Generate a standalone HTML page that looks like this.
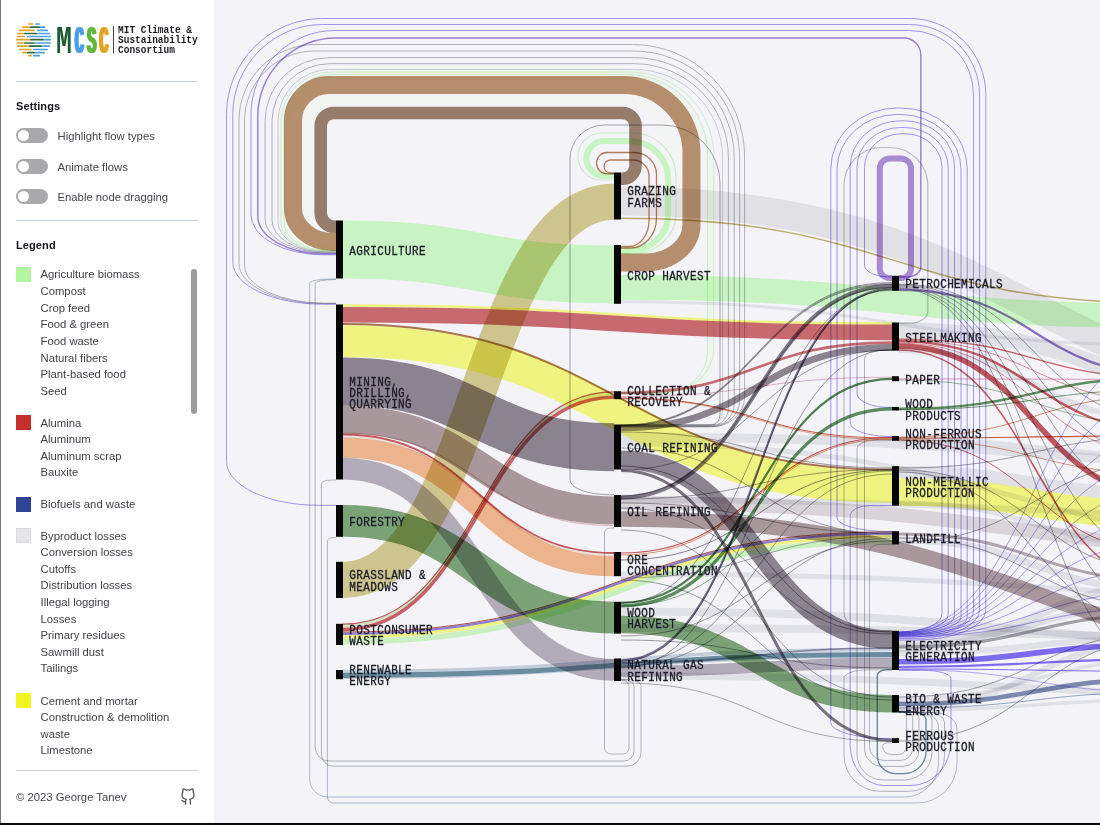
<!DOCTYPE html>
<html lang="en">
<head>
<meta charset="utf-8">
<title>MCSC – Material flows Sankey</title>
<style>
html,body{margin:0;padding:0;}
body{width:1100px;height:825px;overflow:hidden;background:#f3f3f8;font-family:"Liberation Sans",sans-serif;color:#3d3d45;position:relative;}
#frame{position:absolute;left:0;top:0;width:1100px;height:825px;overflow:hidden;}
#side{position:absolute;left:1px;top:0;width:213px;height:823px;background:#fff;}
#edgeL{position:absolute;left:0;top:0;width:1px;height:825px;background:#7a777c;}
#edgeB{position:absolute;left:0;top:823px;width:1100px;height:2px;background:#0a0a0a;}
.hr{position:absolute;left:15px;width:182px;height:1px;background:#c5cfe0;}
.h{position:absolute;left:15px;font-weight:bold;font-size:11px;color:#16161c;letter-spacing:.1px;white-space:nowrap;}
.t{position:absolute;left:56.5px;font-size:11.3px;color:#44444c;white-space:nowrap;line-height:14px;}
.tg{position:absolute;left:15px;width:32px;height:15px;border-radius:8px;background:#a9a9ab;}
.tg i{position:absolute;left:2px;top:2px;width:11px;height:11px;border-radius:6px;background:#fff;}
.lg{position:absolute;left:39.5px;font-size:11.3px;color:#3f3f47;white-space:nowrap;line-height:14px;}
.sw{position:absolute;left:15px;width:15px;height:15px;}
#sb{position:absolute;left:190px;top:269px;width:6px;height:145px;border-radius:3px;background:#9b9b9f;}
#dia{position:absolute;left:0;top:0;}
#dia path{fill:none;}
#dia .l{mix-blend-mode:multiply;}
#dia .c{mix-blend-mode:multiply;}
#dia .n{mix-blend-mode:normal;}
#dia text{font-family:"Liberation Mono",monospace;font-size:11px;letter-spacing:.38px;fill:#1b1b26;stroke:#1b1b26;stroke-width:.28px;}
#logo text{font-family:"Liberation Mono",monospace;}
</style>
</head>
<body>
<div id="frame">
<svg id="dia" width="1100" height="825" viewBox="0 0 1100 825">
<rect x="214" y="0" width="886" height="825" fill="#f3f3f8"/>
<path class="n" d="M621,393L680,393A30,40 0 0 0 710,353L710,174.5A105,105 0 0 0 605,69.5L360,69.5A80,80 0 0 0 280,149.5L280,210A56,40 0 0 0 336,250L336,250" stroke="#eff4f0" stroke-width="7"/>
<path class="n" d="M621,250L644,250A24,24 0 0 0 668,226L668,144.5A44,44 0 0 0 624,100.5L331,100.5A24,24 0 0 0 307,124.5L307,216A20,20 0 0 0 327,236L336,236" stroke="#f1f5f2" stroke-width="8.5"/>
<path class="c" d="M621,262.5L645.5,262.5A46,38 0 0 0 691.5,224.5L691.5,153A68,68 0 0 0 623.5,85L329,85A36,36 0 0 0 293,121L293,208A40,34 0 0 0 333,242L336,242" stroke="#be9670" stroke-width="18"/>
<path class="c" d="M621,178.8L622.5,178.8A13,13 0 0 0 635.5,165.8L635.5,126A13,13 0 0 0 622.5,113L333.7,113A13,13 0 0 0 320.7,126L320.7,212.8A14,14 0 0 0 334.7,226.8L336,226.8" stroke="#9e826e" stroke-width="12.6"/>
<path class="c" d="M621,251L628,251A40,36 0 0 0 668,215L668,179A38,38 0 0 0 630,141L604,141A17.5,17.5 0 0 0 586.5,158.5L586.5,158.5A17.5,17.5 0 0 0 604,176L614,176" stroke="#d2ffc8" stroke-width="6"/>
<path class="c" d="M621,254L632,254A44,40 0 0 0 676,214L676,177A44,44 0 0 0 632,133L601.5,133A23.5,23.5 0 0 0 578,156.5L578,156.5A23.5,23.5 0 0 0 601.5,180L614,180" stroke="#d9f7d2" stroke-width="1.2"/>
<path class="c" d="M621,248L630.5,248A26,30 0 0 0 656.5,218L656.5,174.5A22,22 0 0 0 634.5,152.5L607.1,152.5A10.6,10.6 0 0 0 596.5,163.1L596.5,163.2A10.6,10.6 0 0 0 607.1,173.8L614,173.8" stroke="#b9825c" stroke-width="1.3"/>
<path class="c" d="M621,246.5L629,246.5A20,26 0 0 0 649,220.5L649,176A16,16 0 0 0 633,160L610.5,160A6.5,6.5 0 0 0 604,166.5L604,166.5A6.5,6.5 0 0 0 610.5,173L614,173" stroke="#b9825c" stroke-width="1.3"/>
<path class="c" d="M899,640L915.8,640A70,30 0 0 0 985.8,610L985.8,94.5A76,76 0 0 0 909.8,18.5L322.5,18.5A96,96 0 0 0 226.5,114.5L226.5,461.3A92,44 0 0 0 318.5,505.3L336,505.3" stroke="#a79bf3" stroke-width="1"/>
<path class="c" d="M899,638.5L913.5,638.5A66,28 0 0 0 979.5,610.5L979.5,94.5A70,70 0 0 0 909.5,24.5L322.8,24.5A90,90 0 0 0 232.8,114.5L232.8,262.2A90,42 0 0 0 322.8,304.2L336,304.2" stroke="#a79bf3" stroke-width="1"/>
<path class="c" d="M899,637L911.5,637A62,26 0 0 0 973.5,611L973.5,94.5A64,64 0 0 0 909.5,30.5L335,30.5A84,84 0 0 0 251,114.5L251,214.8A72,40 0 0 0 323,254.8L336,254.8" stroke="#a79bf3" stroke-width="1"/>
<path class="c" d="M899,277L906.8,277A14,10 0 0 0 920.8,267L920.8,55A17,17 0 0 0 903.8,38L335.8,38A78,78 0 0 0 257.8,116L257.8,215.8A66,38 0 0 0 323.8,253.8L336,253.8" stroke="#a184d6" stroke-width="1.4"/>
<path class="c" d="M621,427L710.6,427A34,30 0 0 0 744.6,397L744.6,156.5A112,112 0 0 0 632.6,44.5L315,44.5A76,76 0 0 0 239,120.5L239,263.6A84,40 0 0 0 323,303.6L336,303.6" stroke="#b9b9c0" stroke-width="1"/>
<path class="c" d="M621,426.5L711.6,426.5A28,26 0 0 0 739.6,400.5L739.6,157A106,106 0 0 0 633.6,51L314.5,51A70,70 0 0 0 244.5,121L244.5,265.2A80,38 0 0 0 324.5,303.2L336,303.2" stroke="#b9b9c0" stroke-width="1"/>
<path class="c" d="M621,426L712.2,426A22,22 0 0 0 734.2,404L734.2,157.6A100,100 0 0 0 634.2,57.6L329,57.6A64,64 0 0 0 265,121.6L265,218.8A60,34 0 0 0 325,252.8L336,252.8" stroke="#b9b9c0" stroke-width="1"/>
<path class="c" d="M621,425.5L712.4,425.5A16,18 0 0 0 728.4,407.5L728.4,157.7A94,94 0 0 0 634.4,63.7L330,63.7A58,58 0 0 0 272,121.7L272,220.2A54,32 0 0 0 326,252.2L336,252.2" stroke="#b9b9c0" stroke-width="1"/>
<path class="c" d="M621,425L712.5,425A10,14 0 0 0 722.5,411L722.5,157.5A88,88 0 0 0 634.5,69.5L330,69.5A52,52 0 0 0 278,121.5L278,221.6A48,30 0 0 0 326,251.6L336,251.6" stroke="#d4d4da" stroke-width="1"/>
<path class="c" d="M621,392.5L663.8,392.5A50,44 0 0 0 713.8,348.5L713.8,156A84,84 0 0 0 629.8,72L331,72A50,50 0 0 0 281,122L281,223A46,28 0 0 0 327,251L336,251" stroke="#d9f7d2" stroke-width="1"/>
<path class="c" d="M621,393.5L661.5,393.5A46,42 0 0 0 707.5,351.5L707.5,154.5A80,80 0 0 0 627.5,74.5L332,74.5A48,48 0 0 0 284,122.5L284,222.6A44,28 0 0 0 328,250.6L336,250.6" stroke="#d9f7d2" stroke-width="1"/>
<path class="c" d="M621,424.7L712,424.7A8,10 0 0 0 720,414.7L720,183A58,58 0 0 0 662,125L604,125A34,34 0 0 0 570,159L570,479.8A40,15 0 0 0 610,494.8L614,494.8" stroke="#a9a9b0" stroke-width="1"/>
<path class="c" d="M899,635.5L903,635.5A64.2,18 0 0 0 967.2,617.5L967.2,168.9A66.2,61 0 0 0 901,108L897,108A66.2,61 0 0 0 830.8,168.9L830.8,722.6A59.2,16 0 0 0 890,738.6L892,738.6" stroke="#a79bf3" stroke-width="1"/>
<path class="c" d="M899,634.5L903,634.5A58,18 0 0 0 961,616.5L961,169.7A60,55.2 0 0 0 901,114.5L897,114.5A60,55.2 0 0 0 837,169.7L837,517.6A53,14 0 0 0 890,531.6L892,531.6" stroke="#a79bf3" stroke-width="1"/>
<path class="c" d="M899,633.5L903,633.5A51.5,18 0 0 0 954.5,615.5L954.5,166.9A50.1,46.1 0 0 0 904.4,120.8L900.4,120.8A50.1,46.1 0 0 0 850.2,166.9L850.2,422.5A39.8,14 0 0 0 890,436.5L892,436.5" stroke="#a79bf3" stroke-width="1"/>
<path class="c" d="M899,632.6L903,632.6A45.2,18 0 0 0 948.2,614.6L948.2,167.6A43.6,40.1 0 0 0 904.6,127.5L900.6,127.5A43.6,40.1 0 0 0 857,167.6L857,393.5A33,14 0 0 0 890,407.5L892,407.5" stroke="#a79bf3" stroke-width="1"/>
<path class="c" d="M899,631.7L903,631.7A39,18 0 0 0 942,613.7L942,167.6A36.8,33.8 0 0 0 905.2,133.8L901.2,133.8A36.8,33.8 0 0 0 864.5,167.6L864.5,265A25.5,12 0 0 0 890,277L892,277" stroke="#a79bf3" stroke-width="1"/>
<path class="c" d="M899,323.2L909.8,323.2A18,12 0 0 0 927.8,311.2L927.8,185.5A38,38 0 0 0 889.8,147.5L882,147.5A38,38 0 0 0 844,185.5L844,613A30,18 0 0 0 874,631L892,631" stroke="#c3c3c8" stroke-width="1.2"/>
<path class="c" d="M899,278L901,278A10,9 0 0 0 911,269L911,168.5A10,10 0 0 0 901,158.5L889.8,158.5A10,10 0 0 0 879.8,168.5L879.8,269A10,9 0 0 0 889.8,278L892,278" stroke="#b190d8" stroke-width="6"/>
<path class="c" d="M621,680.5L623,680.5A6,6 0 0 1 629,686.5L629,748A6,6 0 0 1 623,754L610.5,754A6,6 0 0 1 604.5,748L604.5,532A7,4 0 0 1 611.5,528L614,528" stroke="#b9b9c0" stroke-width="1"/>
<path class="c" d="M621,680L624,680A10,6 0 0 1 634,686L634,751A10,10 0 0 1 624,761L329.1,761A14,14 0 0 1 315.1,747L315.1,283.6A18,4 0 0 1 333.1,279.6L336,279.6" stroke="#b9b9c0" stroke-width="1"/>
<path class="c" d="M621,679.5L627,679.5A14,6 0 0 1 641,685.5L641,752.2A14,14 0 0 1 627,766.2L333.4,766.2A12,12 0 0 1 321.4,754.2L321.4,484A10,4 0 0 1 331.4,480L336,480" stroke="#b9b9c0" stroke-width="1"/>
<path class="c" d="M899,712.4L918.5,712.4A20,14 0 0 1 938.5,726.4L938.5,763A34,34 0 0 1 904.5,797L327.7,797A18,18 0 0 1 309.7,779L309.7,283A22,4 0 0 1 331.7,279L336,279" stroke="#b7c0cf" stroke-width="1"/>
<path class="c" d="M899,712.5L933,712.5A24,16 0 0 1 957,728.5L957,763A40,40 0 0 1 917,803L333.4,803A6,6 0 0 1 327.4,797L327.4,540.5A8,3 0 0 1 335.4,537.5L336,537.5" stroke="#b7c0cf" stroke-width="1"/>
<path class="c" d="M899,711.2L901.4,711.2A5,5 0 0 1 906.4,716.2L906.4,746.5A8,8 0 0 1 898.4,754.5L890.7,754.5A8,8 0 0 1 882.7,746.5L882.7,745.8A6,3 0 0 1 888.7,742.8L892,742.8" stroke="#b9b9c4" stroke-width="1"/>
<path class="c" d="M899,711.4L904.7,711.4A8,6 0 0 1 912.7,717.4L912.7,748.4A12,12 0 0 1 900.7,760.4L883.5,760.4A14,14 0 0 1 869.5,746.4L869.5,550.3A12,6 0 0 1 881.5,544.3L892,544.3" stroke="#b9b9c4" stroke-width="1"/>
<path class="c" d="M899,711.6L909,711.6A10,6 0 0 1 919,717.6L919,750.4A16,16 0 0 1 903,766.4L882.5,766.4A18,18 0 0 1 864.5,748.4L864.5,358.5A14,8 0 0 1 878.5,350.5L892,350.5" stroke="#b9b9c4" stroke-width="1"/>
<path class="c" d="M899,711.8L912,711.8A14,8 0 0 1 926,719.8L926,751.6A22,22 0 0 1 904,773.6L895.3,773.6A18,18 0 0 1 877.3,755.6L877.3,675.6A10,6 0 0 1 887.3,669.6L892,669.6" stroke="#6a8a9c" stroke-width="1.3"/>
<path class="c" d="M899,712L916,712A16,8 0 0 1 932,720L932,752A28,28 0 0 1 904,780L883,780A26,26 0 0 1 857,754L857,448.6A16,8 0 0 1 873,440.6L892,440.6" stroke="#b9b9c4" stroke-width="1"/>
<path class="c" d="M899,712.2L926.5,712.2A18,10 0 0 1 944.5,722.2L944.5,755.3A36,36 0 0 1 908.5,791.3L880,791.3A36,36 0 0 1 844,755.3L844,677.9A24,8 0 0 1 868,669.9L892,669.9" stroke="#b9b9c4" stroke-width="1"/>
<path class="c" d="M899,670.3L923,670.3A28,8 0 0 1 951,678.3L951,741.5A40,44 0 0 1 911,785.5L884.2,785.5A34,40 0 0 1 850.2,745.5L850.2,515.5A20,10 0 0 1 870.2,505.5L892,505.5" stroke="#a79bf3" stroke-width="1"/>
<path class="l" d="M343,249.5C478.5,249.5 478.5,274.4 614,274.4" stroke="#d2ffc8" stroke-width="58"/>
<path class="l" d="M343,305.5C617.5,305.5 617.5,323.5 892,323.5" stroke="#fbff83" stroke-width="2.4"/>
<path class="l" d="M343,314.8C617.5,314.8 617.5,332.4 892,332.4" stroke="#d16f72" stroke-width="15.6"/>
<path class="l" d="M343,341.2C617.5,341.2 617.5,486.9 892,486.9" stroke="#fbff83" stroke-width="31.8"/>
<path class="l" d="M343,323.9C617.5,323.9 617.5,469.8 892,469.8" stroke="#b07a52" stroke-width="2"/>
<path class="l" d="M343,381.4C478.5,381.4 478.5,447.2 614,447.2" stroke="#928a93" stroke-width="48"/>
<path class="l" d="M343,419.6C478.5,419.6 478.5,510.4 614,510.4" stroke="#b0a0a1" stroke-width="28"/>
<path class="l" d="M343,433C478.5,433 478.5,525.6 614,525.6" stroke="#e9c4c4" stroke-width="1.2"/>
<path class="l" d="M343,434.5C478.5,434.5 478.5,553 614,553" stroke="#cf5a5e" stroke-width="1.8"/>
<path class="l" d="M343,436.6C478.5,436.6 478.5,555 614,555" stroke="#f4ece6" stroke-width="1.8"/>
<path class="l" d="M343,447.7C478.5,447.7 478.5,566.2 614,566.2" stroke="#f7bd90" stroke-width="20.2"/>
<path class="l" d="M343,468.7C478.5,468.7 478.5,669.8 614,669.8" stroke="#bbb5bf" stroke-width="21.8"/>
<path class="l" d="M343,520.9C478.5,520.9 478.5,617.6 614,617.6" stroke="#80aa79" stroke-width="31.8"/>
<path class="l" d="M343,579.9C478.5,579.9 478.5,201.8 614,201.8" stroke="#d9cf92" stroke-width="36"/>
<path class="l" d="M343,624.2C478.5,624.2 478.5,391.9 614,391.9" stroke="#c9555a" stroke-width="1.2"/>
<path class="l" d="M343,625.6C478.5,625.6 478.5,393.2 614,393.2" stroke="#d2f7c8" stroke-width="1.5"/>
<path class="l" d="M343,627C478.5,627 478.5,394.6 614,394.6" stroke="#f1e7dc" stroke-width="1.4"/>
<path class="l" d="M343,629.6C478.5,629.6 478.5,397.3 614,397.3" stroke="#d0666a" stroke-width="3.5"/>
<path class="l" d="M343,632C617.5,632 617.5,531.8 892,531.8" stroke="#b5564a" stroke-width="1"/>
<path class="l" d="M343,633.8C617.5,633.8 617.5,533.6 892,533.6" stroke="#9683d8" stroke-width="2.4"/>
<path class="l" d="M343,636.8C617.5,636.8 617.5,536.5 892,536.5" stroke="#fbff83" stroke-width="3.2"/>
<path class="l" d="M343,641.6C617.5,641.6 617.5,541.4 892,541.4" stroke="#d4fcc8" stroke-width="5.7"/>
<path class="l" d="M343,671.5C617.5,671.5 617.5,649.4 892,649.4" stroke="#cdd6e2" stroke-width="3.5"/>
<path class="l" d="M343,675.4C617.5,675.4 617.5,654.4 892,654.4" stroke="#6f94a5" stroke-width="5"/>
<path class="l" d="M343,678.4C617.5,678.4 617.5,657.6 892,657.6" stroke="#d5dde6" stroke-width="1.2"/>
<path class="l" d="M621,201C1034.5,201 1034.5,413 1448,413" stroke="#edecec" stroke-width="29"/>
<path class="l" d="M621,437C1034.5,437 1034.5,470 1448,470" stroke="#ebebee" stroke-width="9"/>
<path class="l" d="M621,444C1034.5,444 1034.5,560 1448,560" stroke="#ebebee" stroke-width="5"/>
<path class="l" d="M621,500C1034.5,500 1034.5,520 1448,520" stroke="#ebebee" stroke-width="6"/>
<path class="l" d="M621,574C1034.5,574 1034.5,600 1448,600" stroke="#ebebee" stroke-width="5"/>
<path class="l" d="M621,628C1034.5,628 1034.5,640 1448,640" stroke="#ebebee" stroke-width="8"/>
<path class="l" d="M621,676C1034.5,676 1034.5,700 1448,700" stroke="#ebebee" stroke-width="7"/>
<path class="l" d="M899,350C1034.5,350 1034.5,420 1170,420" stroke="#ebebee" stroke-width="6"/>
<path class="l" d="M899,440C1034.5,440 1034.5,455 1170,455" stroke="#ebebee" stroke-width="5"/>
<path class="l" d="M899,503C1034.5,503 1034.5,545 1170,545" stroke="#ebebee" stroke-width="5"/>
<path class="l" d="M899,540C1034.5,540 1034.5,590 1170,590" stroke="#ebebee" stroke-width="7"/>
<path class="l" d="M899,648C1034.5,648 1034.5,585 1170,585" stroke="#ebebee" stroke-width="8"/>
<path class="l" d="M899,708C1034.5,708 1034.5,640 1170,640" stroke="#ebebee" stroke-width="6"/>
<path class="l" d="M621,287.4C895.5,287.4 895.5,315.7 1170,315.7" stroke="#d2ffc8" stroke-width="24.6"/>
<path class="l" d="M621,301.8C895.5,301.8 895.5,345 1170,345" stroke="#ebebee" stroke-width="3"/>
<path class="l" d="M621,218.3C895.5,218.3 895.5,303.5 1170,303.5" stroke="#c4b36e" stroke-width="1.5"/>
<path class="l" d="M621,519C1034.5,519 1034.5,667 1448,667" stroke="#b0a0a1" stroke-width="15.5"/>
<path class="l" d="M621,503C1034.5,503 1034.5,560 1448,560" stroke="#e4dfe0" stroke-width="14"/>
<path class="l" d="M621,459.8C756.5,459.8 756.5,639.6 892,639.6" stroke="#928a93" stroke-width="18.5"/>
<path class="l" d="M621,470.5C756.5,470.5 756.5,740.5 892,740.5" stroke="#7f7882" stroke-width="3"/>
<path class="l" d="M621,428C756.5,428 756.5,347.3 892,347.3" stroke="#928a93" stroke-width="6.7"/>
<path class="l" d="M621,393C756.5,393 756.5,342.6 892,342.6" stroke="#d16f72" stroke-width="2.6"/>
<path class="l" d="M621,396.6C756.5,396.6 756.5,377.2 892,377.2" stroke="#e9b3cf" stroke-width="1"/>
<path class="l" d="M621,398C756.5,398 756.5,438 892,438" stroke="#d0603f" stroke-width="1"/>
<path class="l" d="M621,398.8C756.5,398.8 756.5,439.5 892,439.5" stroke="#d98f6f" stroke-width="0.8"/>
<path class="l" d="M621,497.5C756.5,497.5 756.5,286 892,286" stroke="#857e8a" stroke-width="4"/>
<path class="l" d="M621,660.5C756.5,660.5 756.5,288.5 892,288.5" stroke="#7c7490" stroke-width="2.2"/>
<path class="l" d="M621,425C756.5,425 756.5,282.5 892,282.5" stroke="#8a8590" stroke-width="0.8"/>
<path class="l" d="M621,425.6C756.5,425.6 756.5,283.6 892,283.6" stroke="#8a8590" stroke-width="0.8"/>
<path class="l" d="M621,426.2C756.5,426.2 756.5,284.6 892,284.6" stroke="#8a8590" stroke-width="0.8"/>
<path class="l" d="M621,496C756.5,496 756.5,287.3 892,287.3" stroke="#8a8590" stroke-width="0.8"/>
<path class="l" d="M621,661.5C756.5,661.5 756.5,289.6 892,289.6" stroke="#8a8590" stroke-width="0.8"/>
<path class="l" d="M621,603C756.5,603 756.5,290.2 892,290.2" stroke="#8a8590" stroke-width="0.8"/>
<path class="l" d="M621,553C756.5,553 756.5,437.5 892,437.5" stroke="#cf5a5e" stroke-width="1.2"/>
<path class="l" d="M621,555C756.5,555 756.5,439 892,439" stroke="#e39a6c" stroke-width="1"/>
<path class="l" d="M621,560C756.5,560 756.5,470 892,470" stroke="#8a8590" stroke-width="1"/>
<path class="l" d="M621,602.8C756.5,602.8 756.5,378.8 892,378.8" stroke="#4f8453" stroke-width="2.2"/>
<path class="l" d="M621,605.8C756.5,605.8 756.5,408.8 892,408.8" stroke="#5f9460" stroke-width="3.2"/>
<path class="l" d="M621,624.6C756.5,624.6 756.5,703.7 892,703.7" stroke="#80aa79" stroke-width="17.5"/>
<path class="l" d="M621,611.5C1034.5,611.5 1034.5,650 1448,650" stroke="#ebebee" stroke-width="8"/>
<path class="l" d="M621,671.5C756.5,671.5 756.5,663.2 892,663.2" stroke="#bbb5bf" stroke-width="11"/>
<path class="l" d="M621,662.5C756.5,662.5 756.5,648 892,648" stroke="#a9a0b4" stroke-width="1.5"/>
<path class="l" d="M621,432C756.5,432 756.5,468 892,468" stroke="#8a8590" stroke-width="0.8"/>
<path class="l" d="M621,448C756.5,448 756.5,534 892,534" stroke="#8a8590" stroke-width="0.8"/>
<path class="l" d="M621,466C756.5,466 756.5,632 892,632" stroke="#8a8590" stroke-width="0.9"/>
<path class="l" d="M621,499C756.5,499 756.5,469.5 892,469.5" stroke="#8a8590" stroke-width="0.8"/>
<path class="l" d="M621,503C756.5,503 756.5,533 892,533" stroke="#8a8590" stroke-width="0.8"/>
<path class="l" d="M621,508C756.5,508 756.5,634 892,634" stroke="#8a8590" stroke-width="0.8"/>
<path class="l" d="M621,530C756.5,530 756.5,697 892,697" stroke="#8a8a92" stroke-width="0.8"/>
<path class="l" d="M621,578C756.5,578 756.5,536 892,536" stroke="#9a9aa2" stroke-width="0.8"/>
<path class="l" d="M621,580C756.5,580 756.5,700 892,700" stroke="#8a8a92" stroke-width="0.8"/>
<path class="l" d="M621,636C756.5,636 756.5,541 892,541" stroke="#8a8590" stroke-width="0.8"/>
<path class="l" d="M621,640C756.5,640 756.5,668 892,668" stroke="#8a8a92" stroke-width="0.8"/>
<path class="l" d="M621,664C756.5,664 756.5,474 892,474" stroke="#8a8590" stroke-width="0.8"/>
<path class="l" d="M621,666C756.5,666 756.5,538 892,538" stroke="#8a8590" stroke-width="0.8"/>
<path class="l" d="M621,668C756.5,668 756.5,349.5 892,349.5" stroke="#8a8590" stroke-width="0.8"/>
<path class="l" d="M621,683C756.5,683 756.5,741.5 892,741.5" stroke="#9a9aa2" stroke-width="0.8"/>
<path class="l" d="M621,470C756.5,470 756.5,350 892,350" stroke="#8a8590" stroke-width="0.8"/>
<path class="l" d="M621,606C756.5,606 756.5,471 892,471" stroke="#7a9a7a" stroke-width="0.8"/>
<path class="l" d="M899,289.8C1034.5,289.8 1034.5,374.6 1170,374.6" stroke="#9274c4" stroke-width="2.2"/>
<path class="l" d="M899,284.1C1034.5,284.1 1034.5,420.3 1170,420.3" stroke="#8d8896" stroke-width="0.8"/>
<path class="l" d="M899,284.8C1034.5,284.8 1034.5,459.8 1170,459.8" stroke="#8d8896" stroke-width="0.8"/>
<path class="l" d="M899,285.6C1034.5,285.6 1034.5,504.9 1170,504.9" stroke="#8d8896" stroke-width="0.8"/>
<path class="l" d="M899,286.6C1034.5,286.6 1034.5,561.3 1170,561.3" stroke="#8d8896" stroke-width="0.8"/>
<path class="l" d="M899,287.6C1034.5,287.6 1034.5,617.7 1170,617.7" stroke="#8d8896" stroke-width="0.8"/>
<path class="l" d="M899,288.6C1034.5,288.6 1034.5,674.1 1170,674.1" stroke="#8d8896" stroke-width="0.8"/>
<path class="l" d="M899,330.5C1173.5,330.5 1173.5,470 1448,470" stroke="#ebebee" stroke-width="16.5"/>
<path class="l" d="M899,339.2C1034.5,339.2 1034.5,378 1170,378" stroke="#cf6a6e" stroke-width="1.3"/>
<path class="l" d="M899,340.2C1034.5,340.2 1034.5,402 1170,402" stroke="#d98a8c" stroke-width="0.9"/>
<path class="l" d="M899,341.4C1034.5,341.4 1034.5,431 1170,431" stroke="#cb5f64" stroke-width="2.4"/>
<path class="l" d="M899,343.2C1034.5,343.2 1034.5,456 1170,456" stroke="#d98a8c" stroke-width="0.9"/>
<path class="l" d="M899,346.3C1034.5,346.3 1034.5,496 1170,496" stroke="#c9595f" stroke-width="5.5"/>
<path class="l" d="M899,350C1034.5,350 1034.5,585 1170,585" stroke="#cb5f64" stroke-width="1.6"/>
<path class="l" d="M899,378.8C1034.5,378.8 1034.5,379.5 1170,379.5" stroke="#e9b3cf" stroke-width="1.2"/>
<path class="l" d="M899,408.8C1034.5,408.8 1034.5,377.4 1170,377.4" stroke="#5f9460" stroke-width="2.4"/>
<path class="l" d="M899,409.8C1034.5,409.8 1034.5,389.7 1170,389.7" stroke="#7aa27a" stroke-width="1"/>
<path class="l" d="M899,380C1034.5,380 1034.5,425.1 1170,425.1" stroke="#8aaa8a" stroke-width="0.8"/>
<path class="l" d="M899,437.2C1034.5,437.2 1034.5,395.2 1170,395.2" stroke="#d98f6f" stroke-width="1"/>
<path class="l" d="M899,438.2C1034.5,438.2 1034.5,435.7 1170,435.7" stroke="#d0603f" stroke-width="1.2"/>
<path class="l" d="M899,439.5C1034.5,439.5 1034.5,473.9 1170,473.9" stroke="#d98f6f" stroke-width="0.9"/>
<path class="l" d="M899,440.2C1034.5,440.2 1034.5,552.8 1170,552.8" stroke="#c9595f" stroke-width="0.9"/>
<path class="l" d="M899,492.2C1034.5,492.2 1034.5,514.3 1170,514.3" stroke="#fbff83" stroke-width="27.2"/>
<path class="l" d="M899,472.3C1034.5,472.3 1034.5,494 1170,494" stroke="#ebebee" stroke-width="12.6"/>
<path class="l" d="M899,468C1034.5,468 1034.5,436.4 1170,436.4" stroke="#8a8590" stroke-width="0.8"/>
<path class="l" d="M899,470C1034.5,470 1034.5,571.5 1170,571.5" stroke="#8a8590" stroke-width="0.8"/>
<path class="l" d="M899,472C1034.5,472 1034.5,627.7 1170,627.7" stroke="#8a8590" stroke-width="0.8"/>
<path class="l" d="M899,534C1034.5,534 1034.5,580.3 1170,580.3" stroke="#b8aeb2" stroke-width="3"/>
<path class="l" d="M899,538C1034.5,538 1034.5,608 1170,608" stroke="#8a8590" stroke-width="0.8"/>
<path class="l" d="M899,542C1034.5,542 1034.5,460.8 1170,460.8" stroke="#8a8590" stroke-width="0.8"/>
<path class="l" d="M899,661.7C1034.5,661.7 1034.5,644.5 1170,644.5" stroke="#8270f5" stroke-width="5.6"/>
<path class="l" d="M899,667C1034.5,667 1034.5,659 1170,659" stroke="#8270f5" stroke-width="2.2"/>
<path class="l" d="M899,669C1034.5,669 1034.5,671.3 1170,671.3" stroke="#8270f5" stroke-width="1"/>
<path class="l" d="M899,669.6C1034.5,669.6 1034.5,692.6 1170,692.6" stroke="#a79bf3" stroke-width="0.8"/>
<path class="l" d="M899,647C1034.5,647 1034.5,614 1170,614" stroke="#aaa8ae" stroke-width="3.2"/>
<path class="l" d="M899,642C1034.5,642 1034.5,605 1170,605" stroke="#ebebee" stroke-width="7"/>
<path class="l" d="M899,653C1034.5,653 1034.5,638.3 1170,638.3" stroke="#ebebee" stroke-width="6"/>
<path class="l" d="M899,632C1034.5,632 1034.5,347.7 1170,347.7" stroke="#9d90f5" stroke-width="0.8"/>
<path class="l" d="M899,632.5C1034.5,632.5 1034.5,392.8 1170,392.8" stroke="#9d90f5" stroke-width="0.8"/>
<path class="l" d="M899,633.1C1034.5,633.1 1034.5,432.3 1170,432.3" stroke="#9d90f5" stroke-width="0.8"/>
<path class="l" d="M899,633.6C1034.5,633.6 1034.5,460.5 1170,460.5" stroke="#9d90f5" stroke-width="0.8"/>
<path class="l" d="M899,634.2C1034.5,634.2 1034.5,488.7 1170,488.7" stroke="#9d90f5" stroke-width="0.8"/>
<path class="l" d="M899,634.8C1034.5,634.8 1034.5,516.9 1170,516.9" stroke="#9d90f5" stroke-width="0.8"/>
<path class="l" d="M899,635.3C1034.5,635.3 1034.5,541.7 1170,541.7" stroke="#9d90f5" stroke-width="0.8"/>
<path class="l" d="M899,635.9C1034.5,635.9 1034.5,567.7 1170,567.7" stroke="#9d90f5" stroke-width="0.8"/>
<path class="l" d="M899,636.4C1034.5,636.4 1034.5,591.4 1170,591.4" stroke="#9d90f5" stroke-width="0.8"/>
<path class="l" d="M899,637C1034.5,637 1034.5,607.2 1170,607.2" stroke="#9d90f5" stroke-width="0.8"/>
<path class="l" d="M899,703.9C1034.5,703.9 1034.5,679 1170,679" stroke="#8190b4" stroke-width="4.6"/>
<path class="l" d="M899,708C1034.5,708 1034.5,692.2 1170,692.2" stroke="#9aa8c4" stroke-width="1"/>
<path class="l" d="M899,699C1034.5,699 1034.5,660 1170,660" stroke="#ebebee" stroke-width="3.5"/>
<path class="l" d="M899,710C1034.5,710 1034.5,700 1170,700" stroke="#ebebee" stroke-width="3.5"/>
<path class="l" d="M899,697C1034.5,697 1034.5,632.7 1170,632.7" stroke="#8a8a9a" stroke-width="0.8"/>
<path class="l" d="M899,741C1034.5,741 1034.5,638.3 1170,638.3" stroke="#8a8a9a" stroke-width="0.8"/>
<rect x="336" y="220.5" width="7" height="58" fill="#050505"/>
<rect x="336" y="304.5" width="7" height="175" fill="#050505"/>
<rect x="336" y="505" width="7" height="31.8" fill="#050505"/>
<rect x="336" y="561.8" width="7" height="36.2" fill="#050505"/>
<rect x="336" y="623.8" width="7" height="21.2" fill="#050505"/>
<rect x="336" y="670" width="7" height="9.2" fill="#050505"/>
<rect x="614" y="172.5" width="7" height="47" fill="#050505"/>
<rect x="614" y="245" width="7" height="58.8" fill="#050505"/>
<rect x="614" y="391.2" width="7" height="8" fill="#050505"/>
<rect x="614" y="424.5" width="7" height="45" fill="#050505"/>
<rect x="614" y="495" width="7" height="32" fill="#050505"/>
<rect x="614" y="552" width="7" height="24.2" fill="#050505"/>
<rect x="614" y="601.8" width="7" height="31.8" fill="#050505"/>
<rect x="614" y="658.5" width="7" height="22.5" fill="#050505"/>
<rect x="892" y="275.8" width="7" height="15" fill="#050505"/>
<rect x="892" y="322.5" width="7" height="28.2" fill="#050505"/>
<rect x="892" y="376.2" width="7" height="5" fill="#050505"/>
<rect x="892" y="407" width="7" height="3.5" fill="#050505"/>
<rect x="892" y="436" width="7" height="4.8" fill="#050505"/>
<rect x="892" y="466.2" width="7" height="39.5" fill="#050505"/>
<rect x="892" y="531.2" width="7" height="13.2" fill="#050505"/>
<rect x="892" y="630.8" width="7" height="39.2" fill="#050505"/>
<rect x="892" y="695" width="7" height="17.5" fill="#050505"/>
<rect x="892" y="738.2" width="7" height="4.8" fill="#050505"/>
<g>
<text transform="translate(349.3,254.6) scale(1,1.08)">AGRICULTURE</text>
<text transform="translate(349.3,385.8) scale(1,1.08)">MINING,</text>
<text transform="translate(349.3,397.1) scale(1,1.08)">DRILLING,</text>
<text transform="translate(349.3,408.4) scale(1,1.08)">QUARRYING</text>
<text transform="translate(349.3,526) scale(1,1.08)">FORESTRY</text>
<text transform="translate(349.3,579.3) scale(1,1.08)">GRASSLAND &amp;</text>
<text transform="translate(349.3,590.6) scale(1,1.08)">MEADOWS</text>
<text transform="translate(349.3,633.8) scale(1,1.08)">POSTCONSUMER</text>
<text transform="translate(349.3,645.1) scale(1,1.08)">WASTE</text>
<text transform="translate(349.3,674.1) scale(1,1.08)">RENEWABLE</text>
<text transform="translate(349.3,685.4) scale(1,1.08)">ENERGY</text>
<text transform="translate(627.3,195.4) scale(1,1.08)">GRAZING</text>
<text transform="translate(627.3,206.8) scale(1,1.08)">FARMS</text>
<text transform="translate(627.3,279.5) scale(1,1.08)">CROP HARVEST</text>
<text transform="translate(627.3,394.7) scale(1,1.08)">COLLECTION &amp;</text>
<text transform="translate(627.3,406) scale(1,1.08)">RECOVERY</text>
<text transform="translate(627.3,452.1) scale(1,1.08)">COAL REFINING</text>
<text transform="translate(627.3,516.1) scale(1,1.08)">OIL REFINING</text>
<text transform="translate(627.3,563.6) scale(1,1.08)">ORE</text>
<text transform="translate(627.3,574.9) scale(1,1.08)">CONCENTRATION</text>
<text transform="translate(627.3,617.1) scale(1,1.08)">WOOD</text>
<text transform="translate(627.3,628.4) scale(1,1.08)">HARVEST</text>
<text transform="translate(627.3,669.2) scale(1,1.08)">NATURAL GAS</text>
<text transform="translate(627.3,680.5) scale(1,1.08)">REFINING</text>
<text transform="translate(905.3,288.4) scale(1,1.08)">PETROCHEMICALS</text>
<text transform="translate(905.3,341.7) scale(1,1.08)">STEELMAKING</text>
<text transform="translate(905.3,383.9) scale(1,1.08)">PAPER</text>
<text transform="translate(905.3,408.2) scale(1,1.08)">WOOD</text>
<text transform="translate(905.3,419.5) scale(1,1.08)">PRODUCTS</text>
<text transform="translate(905.3,437.8) scale(1,1.08)">NON-FERROUS</text>
<text transform="translate(905.3,449.1) scale(1,1.08)">PRODUCTION</text>
<text transform="translate(905.3,485.5) scale(1,1.08)">NON-METALLIC</text>
<text transform="translate(905.3,496.8) scale(1,1.08)">PRODUCTION</text>
<text transform="translate(905.3,543) scale(1,1.08)">LANDFILL</text>
<text transform="translate(905.3,649.8) scale(1,1.08)">ELECTRICITY</text>
<text transform="translate(905.3,661.1) scale(1,1.08)">GENERATION</text>
<text transform="translate(905.3,703.2) scale(1,1.08)">BIO &amp; WASTE</text>
<text transform="translate(905.3,714.5) scale(1,1.08)">ENERGY</text>
<text transform="translate(905.3,740.1) scale(1,1.08)">FERROUS</text>
<text transform="translate(905.3,751.4) scale(1,1.08)">PRODUCTION</text>
</g>
</svg>
<div id="side">
<svg id="logo" width="213" height="70" viewBox="1 0 213 70" style="position:absolute;left:0;top:0">
<!--LOGO-->
<line x1="28.8" y1="24" x2="32.7" y2="24" stroke="#e0a526" stroke-width="1.7" stroke-linecap="round"/><line x1="35.8" y1="24" x2="39.2" y2="24" stroke="#4a9fe6" stroke-width="1.7" stroke-linecap="round"/><line x1="22.8" y1="27.2" x2="29.2" y2="27.2" stroke="#e0a526" stroke-width="1.7" stroke-linecap="round"/><line x1="30.8" y1="27.2" x2="39.2" y2="27.2" stroke="#2f6b3c" stroke-width="1.7" stroke-linecap="round"/><line x1="40.8" y1="27.2" x2="44.7" y2="27.2" stroke="#4a9fe6" stroke-width="1.7" stroke-linecap="round"/><line x1="19.8" y1="30.4" x2="34.2" y2="30.4" stroke="#e0a526" stroke-width="1.7" stroke-linecap="round"/><line x1="37.8" y1="30.4" x2="47.2" y2="30.4" stroke="#4a9fe6" stroke-width="1.7" stroke-linecap="round"/><line x1="17.8" y1="33.5" x2="23.2" y2="33.5" stroke="#e0a526" stroke-width="1.7" stroke-linecap="round"/><line x1="24.8" y1="33.5" x2="36.2" y2="33.5" stroke="#2f6b3c" stroke-width="1.7" stroke-linecap="round"/><line x1="37.8" y1="33.5" x2="49.2" y2="33.5" stroke="#4a9fe6" stroke-width="1.7" stroke-linecap="round"/><line x1="17.3" y1="36.5" x2="24.2" y2="36.5" stroke="#e0a526" stroke-width="1.7" stroke-linecap="round"/><line x1="27.8" y1="36.5" x2="50.2" y2="36.5" stroke="#4a9fe6" stroke-width="1.7" stroke-linecap="round"/><line x1="16.8" y1="39.7" x2="29.2" y2="39.7" stroke="#e0a526" stroke-width="1.7" stroke-linecap="round"/><line x1="30.8" y1="39.7" x2="43.2" y2="39.7" stroke="#2f6b3c" stroke-width="1.7" stroke-linecap="round"/><line x1="44.8" y1="39.7" x2="50.2" y2="39.7" stroke="#4a9fe6" stroke-width="1.7" stroke-linecap="round"/><line x1="17.3" y1="43" x2="23.2" y2="43" stroke="#e0a526" stroke-width="1.7" stroke-linecap="round"/><line x1="24.8" y1="43" x2="34.2" y2="43" stroke="#2f6b3c" stroke-width="1.7" stroke-linecap="round"/><line x1="35.8" y1="43" x2="50.2" y2="43" stroke="#4a9fe6" stroke-width="1.7" stroke-linecap="round"/><line x1="17.8" y1="46.2" x2="28.2" y2="46.2" stroke="#e0a526" stroke-width="1.7" stroke-linecap="round"/><line x1="29.8" y1="46.2" x2="41.2" y2="46.2" stroke="#2f6b3c" stroke-width="1.7" stroke-linecap="round"/><line x1="42.8" y1="46.2" x2="49.2" y2="46.2" stroke="#4a9fe6" stroke-width="1.7" stroke-linecap="round"/><line x1="19.8" y1="49.5" x2="31.2" y2="49.5" stroke="#e0a526" stroke-width="1.7" stroke-linecap="round"/><line x1="33.8" y1="49.5" x2="47.2" y2="49.5" stroke="#4a9fe6" stroke-width="1.7" stroke-linecap="round"/><line x1="22.8" y1="52.7" x2="26.2" y2="52.7" stroke="#e0a526" stroke-width="1.7" stroke-linecap="round"/><line x1="27.8" y1="52.7" x2="34.2" y2="52.7" stroke="#2f6b3c" stroke-width="1.7" stroke-linecap="round"/><line x1="35.8" y1="52.7" x2="44.2" y2="52.7" stroke="#4a9fe6" stroke-width="1.7" stroke-linecap="round"/><line x1="28.8" y1="55.7" x2="31.2" y2="55.7" stroke="#e0a526" stroke-width="1.7" stroke-linecap="round"/><line x1="33.8" y1="55.7" x2="39.2" y2="55.7" stroke="#4a9fe6" stroke-width="1.7" stroke-linecap="round"/>
<filter id="fat" x="-5%" y="-5%" width="110%" height="110%"><feMorphology operator="dilate" radius="0.6 0"/></filter><text x="56" y="53" font-family="Liberation Sans, sans-serif" font-weight="bold" font-size="38.5" textLength="15.9" lengthAdjust="spacingAndGlyphs" fill="#1f5c34">M</text><g filter="url(#fat)"><text x="74.7" y="53" font-family="Liberation Sans, sans-serif" font-weight="bold" font-size="38.5" textLength="9.3" lengthAdjust="spacingAndGlyphs" fill="#4a9fe6">C</text><text x="86.9" y="53" font-family="Liberation Sans, sans-serif" font-weight="bold" font-size="38.5" textLength="9.4" lengthAdjust="spacingAndGlyphs" fill="#62b53e">S</text><text x="99.2" y="53" font-family="Liberation Sans, sans-serif" font-weight="bold" font-size="38.5" textLength="9.3" lengthAdjust="spacingAndGlyphs" fill="#e0a526">C</text></g>
<rect x="113" y="26" width="1" height="27.5" fill="#444"/>
<text transform="translate(118,33.0) scale(1,1.12)" font-size="9.5" font-weight="bold" fill="#1b1b22">MIT Climate &amp;</text><text transform="translate(118,42.9) scale(1,1.12)" font-size="9.5" font-weight="bold" fill="#1b1b22">Sustainability</text><text transform="translate(118,52.8) scale(1,1.12)" font-size="9.5" font-weight="bold" fill="#1b1b22">Consortium</text>
</svg>
<div class="hr" style="top:81px"></div>
<div class="h" style="top:100px">Settings</div>
<div class="tg" style="top:128px"><i></i></div><div class="t" style="top:129px">Highlight flow types</div>
<div class="tg" style="top:158.5px"><i></i></div><div class="t" style="top:159.5px">Animate flows</div>
<div class="tg" style="top:189px"><i></i></div><div class="t" style="top:190px">Enable node dragging</div>
<div class="hr" style="top:220px"></div>
<div class="h" style="top:239px">Legend</div>
<div id="sb"></div>
<div class="sw" style="top:267px;background:#b4f5a0"></div>
<div class="lg" style="top:267px">Agriculture biomass</div>
<div class="lg" style="top:284px">Compost</div>
<div class="lg" style="top:300.5px">Crop feed</div>
<div class="lg" style="top:317px">Food &amp; green</div>
<div class="lg" style="top:333.5px">Food waste</div>
<div class="lg" style="top:350.5px">Natural fibers</div>
<div class="lg" style="top:367px">Plant-based food</div>
<div class="lg" style="top:383.5px">Seed</div>
<div class="sw" style="top:415px;background:#c5302c"></div>
<div class="lg" style="top:415.5px">Alumina</div>
<div class="lg" style="top:432px">Aluminum</div>
<div class="lg" style="top:448.5px">Aluminum scrap</div>
<div class="lg" style="top:465px">Bauxite</div>
<div class="sw" style="top:497px;background:#2f4496"></div>
<div class="lg" style="top:497px">Biofuels and waste</div>
<div class="sw" style="top:528px;background:#e4e4ea;box-shadow:inset 0 0 0 .5px #d0d0d6"></div>
<div class="lg" style="top:528.5px">Byproduct losses</div>
<div class="lg" style="top:545px">Conversion losses</div>
<div class="lg" style="top:562px">Cutoffs</div>
<div class="lg" style="top:578px">Distribution losses</div>
<div class="lg" style="top:595px">Illegal logging</div>
<div class="lg" style="top:611.5px">Losses</div>
<div class="lg" style="top:628px">Primary residues</div>
<div class="lg" style="top:644.5px">Sawmill dust</div>
<div class="lg" style="top:661px">Tailings</div>
<div class="sw" style="top:693px;background:#f0f522"></div>
<div class="lg" style="top:693.5px">Cement and mortar</div>
<div class="lg" style="top:710px">Construction &amp; demolition</div>
<div class="lg" style="top:726.5px">waste</div>
<div class="lg" style="top:743px">Limestone</div>
<div class="hr" style="top:770px"></div>
<div class="lg" style="left:15px;top:790px;color:#44444c">© 2023 George Tanev</div>
<svg width="16" height="18" viewBox="0 0 16 18" style="position:absolute;left:179px;top:788px"><path d="M5.6,16.2v-2.6c0,-1 .3,-1.7 .8,-2.2c-2.4,-.3 -4.4,-1.4 -4.4,-4.8c0,-1.1 .4,-2 1,-2.8c-.1,-.3 -.4,-1.4 .1,-2.8c0,0 1,-.3 2.9,1.1c1.3,-.35 2.7,-.35 4,0c1.9,-1.4 2.9,-1.1 2.9,-1.1c.5,1.4 .2,2.5 .1,2.8c.6,.8 1,1.7 1,2.8c0,3.4 -2,4.5 -4.4,4.8c.5,.5 .8,1.2 .8,2.2v2.6M5.6,13.8c-2.2,.7 -2.6,-1.2 -3.6,-1.4" fill="none" stroke="#555" stroke-width="1.3" stroke-linecap="round" stroke-linejoin="round"/></svg>
</div>
<div id="edgeL"></div>
<div id="edgeB"></div>
</div>
</body>
</html>
